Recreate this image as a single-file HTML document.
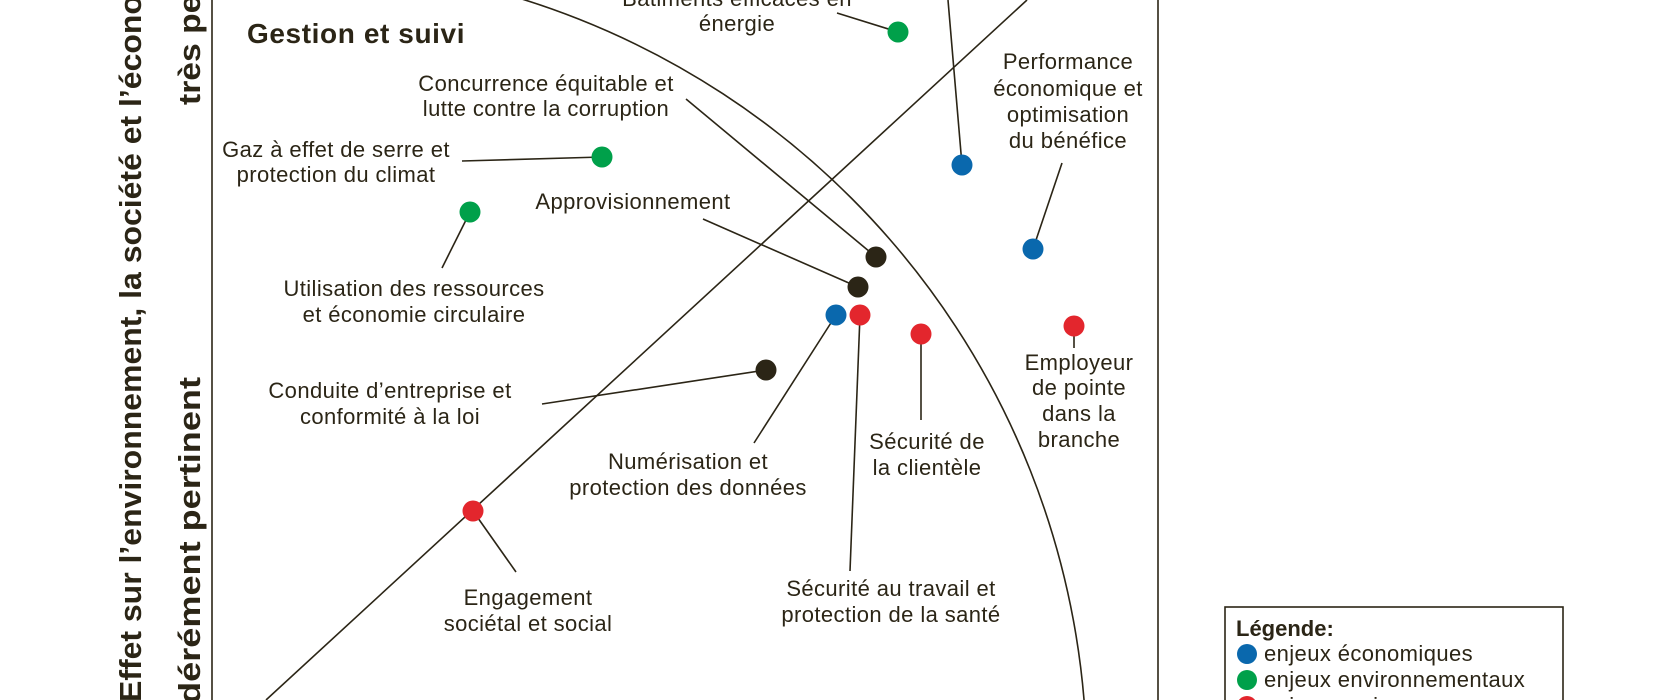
<!DOCTYPE html>
<html><head><meta charset="utf-8"><style>
html,body{margin:0;padding:0;background:#fff;width:1680px;height:700px;overflow:hidden;}
svg{display:block;}
text{font-family:"Liberation Sans",sans-serif;fill:#2b2516;}
.l{font-size:22px;text-anchor:middle;letter-spacing:0.4px;}
</style></head><body>
<svg width="1680" height="700" viewBox="0 0 1680 700" xmlns="http://www.w3.org/2000/svg">
<defs><clipPath id="c"><rect x="213" y="0" width="944" height="700"/></clipPath></defs>
<g stroke="#2b2516" stroke-width="1.6" fill="none">
<line x1="212" y1="0" x2="212" y2="700"/>
<line x1="1158" y1="0" x2="1158" y2="700"/>
<circle cx="283" cy="766.5" r="803.8" clip-path="url(#c)"/>
<line x1="266" y1="700" x2="1027" y2="0"/>
<line x1="837" y1="13" x2="898" y2="32"/>
<line x1="948" y1="0" x2="962" y2="165"/>
<line x1="1062" y1="163" x2="1033" y2="249"/>
<line x1="686" y1="99" x2="876" y2="257"/>
<line x1="703" y1="219" x2="858" y2="287"/>
<line x1="754" y1="443" x2="836" y2="315"/>
<line x1="850" y1="571" x2="860" y2="315"/>
<line x1="921" y1="420" x2="921" y2="334"/>
<line x1="1074" y1="348" x2="1074" y2="326"/>
<line x1="542" y1="404" x2="766" y2="370"/>
<line x1="462" y1="161" x2="602" y2="157"/>
<line x1="442" y1="268" x2="470" y2="212"/>
<line x1="516" y1="572" x2="473" y2="511"/>
</g>
<g>
<circle cx="898" cy="32" r="10.5" fill="#00a04a"/>
<circle cx="962" cy="165" r="10.5" fill="#0a68ad"/>
<circle cx="1033" cy="249" r="10.5" fill="#0a68ad"/>
<circle cx="876" cy="257" r="10.5" fill="#2b2516"/>
<circle cx="858" cy="287" r="10.5" fill="#2b2516"/>
<circle cx="836" cy="315" r="10.5" fill="#0a68ad"/>
<circle cx="860" cy="315" r="10.5" fill="#e3262d"/>
<circle cx="921" cy="334" r="10.5" fill="#e3262d"/>
<circle cx="1074" cy="326" r="10.5" fill="#e3262d"/>
<circle cx="766" cy="370" r="10.5" fill="#2b2516"/>
<circle cx="602" cy="157" r="10.5" fill="#00a04a"/>
<circle cx="470" cy="212" r="10.5" fill="#00a04a"/>
<circle cx="473" cy="511" r="10.5" fill="#e3262d"/>
</g>
<text transform="translate(141,702) rotate(-90)" font-size="31" font-weight="bold" textLength="762" lengthAdjust="spacingAndGlyphs">Effet sur l’environnement, la société et l’économie</text>
<text transform="translate(200,105) rotate(-90)" font-size="31" font-weight="bold" textLength="215" lengthAdjust="spacingAndGlyphs">très pertinent</text>
<text transform="translate(200,758) rotate(-90)" font-size="31" font-weight="bold" textLength="381" lengthAdjust="spacingAndGlyphs">modérément pertinent</text>
<text x="247" y="43" font-size="28" font-weight="bold" letter-spacing="0.6">Gestion et suivi</text>
<text class="l" x="737" y="6">Bâtiments efficaces en</text>
<text class="l" x="737" y="31">énergie</text>
<text class="l" x="546" y="91">Concurrence équitable et</text>
<text class="l" x="546" y="116">lutte contre la corruption</text>
<text class="l" x="336" y="157">Gaz à effet de serre et</text>
<text class="l" x="336" y="182">protection du climat</text>
<text class="l" x="633" y="209">Approvisionnement</text>
<text class="l" x="414" y="296">Utilisation des ressources</text>
<text class="l" x="414" y="322">et économie circulaire</text>
<text class="l" x="390" y="398">Conduite d’entreprise et</text>
<text class="l" x="390" y="424">conformité à la loi</text>
<text class="l" x="688" y="469">Numérisation et</text>
<text class="l" x="688" y="495">protection des données</text>
<text class="l" x="528" y="605">Engagement</text>
<text class="l" x="528" y="631">sociétal et social</text>
<text class="l" x="891" y="596">Sécurité au travail et</text>
<text class="l" x="891" y="622">protection de la santé</text>
<text class="l" x="927" y="449">Sécurité de</text>
<text class="l" x="927" y="475">la clientèle</text>
<text class="l" x="1079" y="370">Employeur</text>
<text class="l" x="1079" y="395">de pointe</text>
<text class="l" x="1079" y="421">dans la</text>
<text class="l" x="1079" y="447">branche</text>
<text class="l" x="1068" y="69">Performance</text>
<text class="l" x="1068" y="96">économique et</text>
<text class="l" x="1068" y="122">optimisation</text>
<text class="l" x="1068" y="148">du bénéfice</text>
<rect x="1225" y="607" width="338" height="120" fill="#fff" stroke="#2b2516" stroke-width="1.6"/>
<text x="1236" y="636" font-size="22" font-weight="bold">Légende:</text>
<circle cx="1247" cy="654" r="10" fill="#0a68ad"/>
<text x="1264" y="661" font-size="22" letter-spacing="0.4">enjeux économiques</text>
<circle cx="1247" cy="680" r="10" fill="#00a04a"/>
<text x="1264" y="687" font-size="22" letter-spacing="0.4">enjeux environnementaux</text>
<circle cx="1247" cy="706" r="10" fill="#e3262d"/>
<text x="1264" y="713" font-size="22" letter-spacing="0.4">enjeux sociaux</text>
</svg>
</body></html>
